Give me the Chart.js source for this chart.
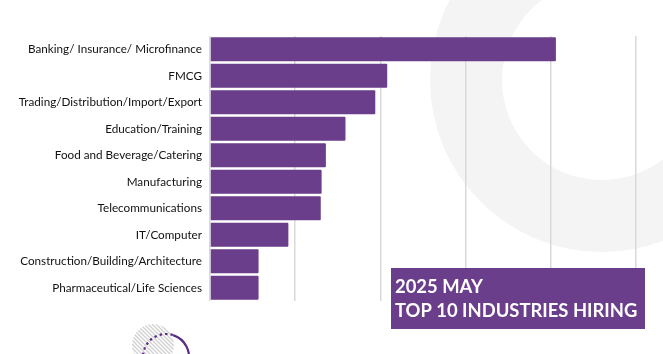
<!DOCTYPE html>
<html>
<head>
<meta charset="utf-8">
<script src="https://cdn.jsdelivr.net/npm/chart.js@4"></script>
<style>
  html, body { margin: 0; padding: 0; background: #fff; }
  #wrap { width: 663px; height: 354px; position: relative; }
</style>
</head>
<body>
<div id="wrap"><canvas id="hiringChart" width="663" height="354"></canvas></div>
<script>
// Top 10 industries hiring, May 2025 - horizontal bars

const industries = [
  'Banking/ Insurance/ Microfinance',
  'FMCG',
  'Trading/Distribution/Import/Export',
  'Education/Training',
  'Food and Beverage/Catering',
  'Manufacturing',
  'Telecommunications',
  'IT/Computer',
  'Construction/Building/Architecture',
  'Pharmaceutical/Life Sciences'
];

const jobCounts = [406, 208, 194, 159, 136, 131, 130, 92, 57, 57];

const titleLines = ['2025 MAY', 'TOP 10 INDUSTRIES HIRING'];

const PURPLE = '#6a3e8b';

// light grey ring behind the plot + the little circle bottom-left
const decorations = {
  id: 'decorations',
  beforeDraw(chart) {
    const c = chart.ctx;
    c.save();
    c.fillStyle = '#fff';
    c.fillRect(0, 0, chart.width, chart.height);

    c.beginPath();
    c.arc(602, 80, 172, 0, Math.PI * 2);
    c.arc(602, 80, 100, 0, Math.PI * 2, true);
    c.fillStyle = '#f4f4f4';
    c.fill('evenodd');

    // hatched disc
    c.save();
    c.beginPath();
    c.arc(153, 345, 21, 0, Math.PI * 2);
    c.clip();
    c.strokeStyle = '#d0d0d0';
    c.lineWidth = 1.3;
    for (let k = -60; k < 60; k += 4) {
      c.beginPath();
      c.moveTo(153 + k - 30, 345 - 30);
      c.lineTo(153 + k + 30, 345 + 30);
      c.stroke();
    }
    c.restore();

    // purple circle, dashed on the left part
    c.strokeStyle = '#5b2d82';
    c.lineWidth = 2.2;
    c.setLineDash([2.5, 3]);
    c.beginPath();
    c.arc(166, 357, 23, Math.PI * 0.95, Math.PI * 1.6);
    c.stroke();
    c.setLineDash([]);
    c.beginPath();
    c.arc(166, 357, 23, Math.PI * 1.6, Math.PI * 2.1);
    c.stroke();
    c.restore();
  },
  afterDraw(chart) {
    const c = chart.ctx;
    c.save();
    c.fillStyle = PURPLE;
    c.fillRect(391, 268, 254, 61);
    c.fillStyle = '#fff';
    c.textBaseline = 'alphabetic';
    c.textAlign = 'left';
    c.font = 'bold 18.4px Lato';
    c.fillText(titleLines[0], 395, 293);
    c.fillText(titleLines[1], 395, 317);
    c.restore();
  }
};

const ctx = document.getElementById('hiringChart').getContext('2d');

const chart = new Chart(ctx, {
  type: 'bar',
  data: {
    labels: industries,
    datasets: [{
      data: jobCounts,
      backgroundColor: PURPLE,
      borderWidth: 0,
      borderRadius: 1,
      categoryPercentage: 0.9,
      barPercentage: 1
    }]
  },
  options: {
    indexAxis: 'y',
    responsive: false,
    animation: false,
    layout: { padding: { left: 0, right: 27, top: 36, bottom: 53 } },
    plugins: {
      legend: { display: false },
      tooltip: { enabled: false }
    },
    scales: {
      x: {
        min: 0,
        max: 500,
        ticks: { display: false, stepSize: 100 },
        grid: { color: '#d9d9d9', lineWidth: 1.5, drawTicks: false },
        border: { display: false }
      },
      y: {
        afterFit: (scale) => { scale.width = 210; },
        ticks: {
          padding: 8,
          color: '#111',
          font: { family: 'Lato', size: 11.7 }
        },
        grid: { display: false, drawTicks: false },
        border: { display: false }
      }
    }
  },
  plugins: [decorations]
});
</script>
</body>
</html>
